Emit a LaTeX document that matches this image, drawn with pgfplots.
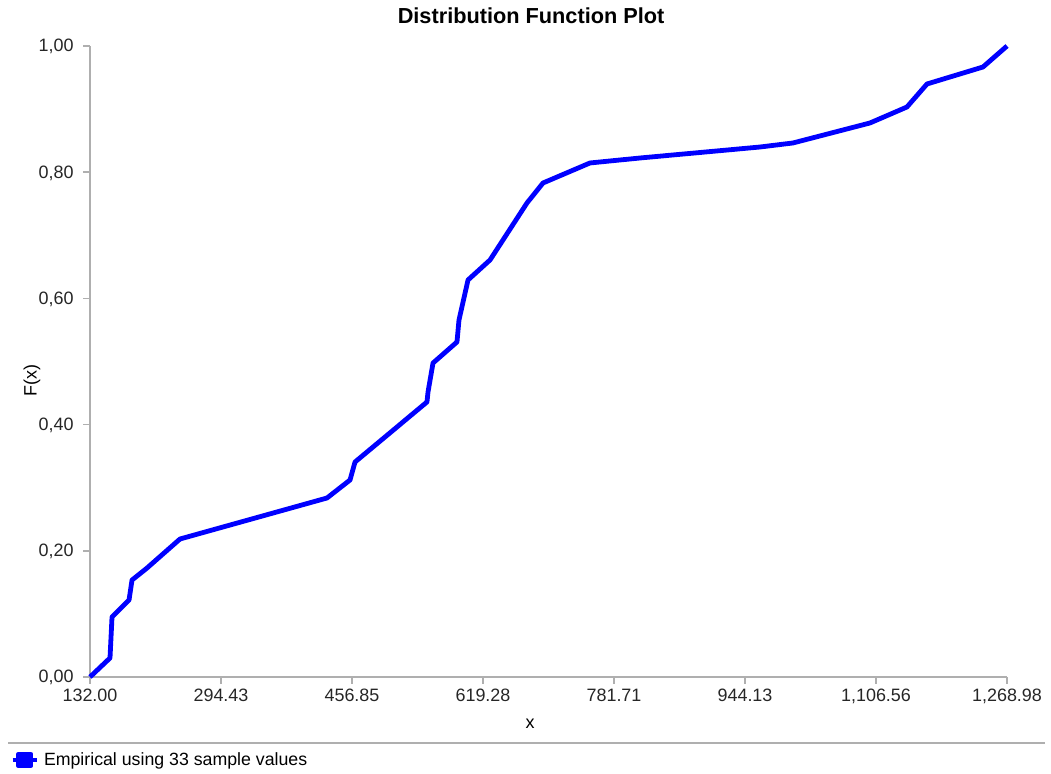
\documentclass[border=0pt]{standalone}
\usepackage{fontspec}
\setmainfont{Liberation Sans}
\usepackage{pgfplots}
\pgfplotsset{compat=1.18}
\definecolor{axisgray}{RGB}{175,175,175}
\definecolor{curveblue}{RGB}{0,0,255}
\begin{document}
\begin{tikzpicture}[x=1bp,y=1bp]
\path[use as bounding box] (0,0) rectangle (1051,774);
\begin{axis}[
  at={(90bp,97bp)}, anchor=south west,
  scale only axis, width=917bp, height=631bp,
  xmin=132, xmax=1268.98, ymin=0, ymax=1,
  axis x line*=bottom, axis y line*=left,
  axis line style={draw=axisgray, line width=1.6bp, -},
  xtick={132,294.43,456.85,619.28,781.71,944.13,1106.56,1268.98},
  xticklabels={132.00,294.43,456.85,619.28,781.71,944.13,{1,106.56},{1,268.98}},
  ytick={0,0.2,0.4,0.6,0.8,1},
  yticklabels={{0,00},{0,20},{0,40},{0,60},{0,80},{1,00}},
  tick align=outside, major tick length=7bp,
  tick style={draw=axisgray, line width=1.6bp},
  tick label style={font=\fontsize{18}{20}\selectfont, text=black!85},
  xticklabel style={anchor=base, yshift=-18bp},
  yticklabel style={anchor=base east, xshift=-6bp, yshift=-6bp},
  title={\bfseries Distribution Function Plot},
  title style={font=\fontsize{21.8}{24}\selectfont, at={(0.481,1)}, anchor=base, yshift=17bp},
  xlabel={x}, ylabel={F(x)},
  label style={font=\fontsize{18}{20}\selectfont},
  xlabel style={at={(0.48,0)}, anchor=base, yshift=-52bp},
  ylabel style={at={(-0.0632,0.47)}, anchor=center},
  clip=false,
  legend style={at={(-0.0872,-0.1315)}, anchor=west, draw=none, fill=none,
    inner sep=0pt, font=\fontsize{17.8}{20}\selectfont},
  legend cell align=left,
  legend image code/.code={
    \path (0bp,0bp) (27bp,0bp);
    \draw[curveblue, line width=4.5bp] (0bp,0bp) -- (24bp,0bp);
    \fill[curveblue] (6bp,-6bp) rectangle (18bp,6bp);
  },
]
\addplot[curveblue, line width=4.8bp, line join=round] coordinates {
  (132.0,0.0) (156.8,0.0301) (159.3,0.0951) (180.4,0.122) (184.1,0.1537)
  (202.7,0.1727) (243.6,0.2187) (425.9,0.2837) (454.4,0.3122) (460.6,0.3407)
  (549.8,0.4358) (551.1,0.4517) (557.3,0.4976) (587.0,0.5309) (589.5,0.5658)
  (600.7,0.6292) (628.0,0.6609) (673.8,0.7512) (693.7,0.7829) (751.9,0.8146)
  (814.0,0.8225) (962.7,0.8399) (1003.6,0.8463) (1099.1,0.878) (1144.9,0.9033)
  (1169.8,0.9398) (1239.2,0.9667) (1268.98,1.0)
};
\addlegendentry{Empirical using 33 sample values}
\end{axis}
\draw[axisgray, line width=1.6bp] (8,31) -- (1045,31);
\end{tikzpicture}
\end{document}
